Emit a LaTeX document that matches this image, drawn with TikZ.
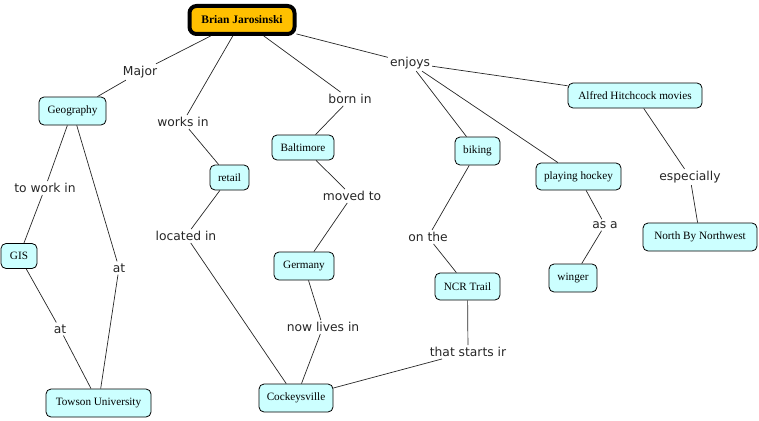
\documentclass[tikz,border=0pt]{standalone}
\usepackage{fontspec}
\setmainfont{Liberation Serif}
\newfontfamily\lblfont{DejaVu Sans}
\definecolor{cfill}{RGB}{204,255,255}
\definecolor{bfill}{RGB}{255,192,0}
\begin{document}
\begin{tikzpicture}[x=1pt,y=-1pt,
 concept/.style={draw=black, line width=0.8pt, fill=cfill, rounded corners=5pt, inner sep=0pt, font=\fontsize{11.2}{12}\selectfont},
 main/.style={draw=black, line width=4pt, fill=bfill, rounded corners=7pt, inner sep=0pt, font=\bfseries\fontsize{11.5}{12}\selectfont},
 link/.style={inner sep=2pt, font=\lblfont\fontsize{12.3}{14}\selectfont, text=black!85},
 conn/.style={line width=0.7pt, draw=black!85}]
\useasboundingbox (0,0) rectangle (759,420);
\node[main, minimum width=105pt, minimum height=28pt] (brian) at (242,20) {Brian Jarosinski};
\node[concept, minimum width=67pt, minimum height=28pt] (geo) at (72.5,111) {Geography};
\node[concept, minimum width=36pt, minimum height=25pt] (gis) at (19,256) {GIS};
\node[concept, minimum width=105pt, minimum height=28pt] (towson) at (98.5,403) {Towson University};
\node[concept, minimum width=39pt, minimum height=25pt] (retail) at (229.5,177.5) {retail};
\node[concept, minimum width=62pt, minimum height=25pt] (balt) at (303,147.5) {Baltimore};
\node[concept, minimum width=60pt, minimum height=28pt] (germ) at (304,266) {Germany};
\node[concept, minimum width=74pt, minimum height=28pt] (cock) at (296,398) {Cockeysville};
\node[concept, minimum width=45pt, minimum height=28pt] (bike) at (477.5,151) {biking};
\node[concept, minimum width=65pt, minimum height=27pt] (ncr) at (467.5,286.5) {NCR Trail};
\node[concept, minimum width=85pt, minimum height=27pt] (hockey) at (578.5,176.5) {playing hockey};
\node[concept, minimum width=48pt, minimum height=28pt] (winger) at (573,278) {winger};
\node[concept, minimum width=134pt, minimum height=25pt] (alfred) at (635,95.5) {Alfred Hitchcock movies};
\node[concept, minimum width=114pt, minimum height=28pt] (nbn) at (700,237) {North By Northwest};
% link labels
\node[link] (major) at (140,72) {Major};
\node[link] (works) at (183,122) {works in};
\node[link] (born) at (350,99) {born in};
\node[link] (enjoys) at (410,63) {enjoys};
\node[link] (towork) at (45,188) {to work in};
\node[link] (at1) at (119,268) {at};
\node[link] (at2) at (60,329) {at};
\node[link] (located) at (186,236) {located in};
\node[link] (moved) at (352,196) {moved to};
\node[link] (nowlives) at (323,327) {now lives in};
\node[link] (onthe) at (428,237) {on the};
\node[link] (starts) at (468,352) {that starts ir};
\node[link] (asa) at (605,225) {as a};
\node[link] (esp) at (690,177) {especially};
% connectors
\draw[conn] (brian) -- (major); \draw[conn] (major) -- (geo);
\draw[conn] (brian) -- (works); \draw[conn] (works) -- (retail);
\draw[conn] (brian) -- (born); \draw[conn] (born) -- (balt);
\draw[conn] (brian) -- (enjoys);
\draw[conn] (enjoys) -- (bike);
\draw[conn] (enjoys) -- (hockey);
\draw[conn] (enjoys) -- (alfred);
\draw[conn] (geo) -- (towork); \draw[conn] (towork) -- (gis);
\draw[conn] (geo) -- (at1); \draw[conn] (at1) -- (towson);
\draw[conn] (gis) -- (at2); \draw[conn] (at2) -- (towson);
\draw[conn] (retail) -- (located); \draw[conn] (located) -- (cock);
\draw[conn] (balt) -- (moved); \draw[conn] (moved) -- (germ);
\draw[conn] (germ) -- (nowlives); \draw[conn] (nowlives) -- (cock);
\draw[conn] (bike) -- (onthe); \draw[conn] (onthe) -- (ncr);
\draw[conn] (ncr) -- (starts); \draw[conn] (starts) -- (cock);
\draw[conn] (hockey) -- (asa); \draw[conn] (asa) -- (winger);
\draw[conn] (alfred) -- (esp); \draw[conn] (esp) -- (nbn);
\end{tikzpicture}
\end{document}
